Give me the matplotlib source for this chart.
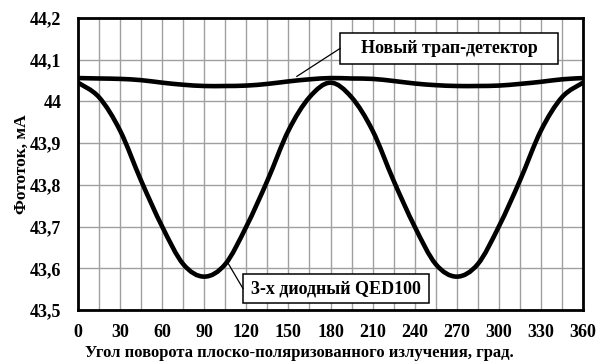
import numpy as np
import matplotlib
matplotlib.use('Agg')
import matplotlib.pyplot as plt
from matplotlib.path import Path
from matplotlib.patches import PathPatch, Rectangle

# углы поворота, град.
angles = [0, 15, 30, 45, 60, 75, 90, 105, 120, 135, 150, 165, 180,
          195, 210, 225, 240, 255, 270, 285, 300, 315, 330, 345, 360]

# новый трап-детектор
trap = [44.056, 44.055, 44.054, 44.051, 44.045, 44.040, 44.037, 44.037, 44.038,
        44.042, 44.048, 44.053, 44.056, 44.055, 44.054, 44.049, 44.043, 44.039,
        44.037, 44.037, 44.038, 44.042, 44.047, 44.053, 44.056]

# 3-х диодный QED100
qed = [44.045, 44.010, 43.930, 43.810, 43.700, 43.610, 43.580, 43.610, 43.700,
       43.810, 43.930, 44.010, 44.045, 44.010, 43.930, 43.810, 43.700, 43.610,
       43.580, 43.610, 43.700, 43.810, 43.930, 44.010, 44.045]

x_ticks = list(range(0, 361, 30))
y_ticks = [43.5, 43.6, 43.7, 43.8, 43.9, 44.0, 44.1, 44.2]
y_labels = ['43,5', '43,6', '43,7', '43,8', '43,9', '44', '44,1', '44,2']


def smooth_path(xs, ys):
    # сглаженная линия как в Excel: кубические кривые Безье через точки
    p = np.column_stack([xs, ys]).astype(float)
    p_ext = np.vstack([p[0], p, p[-1]])
    verts = [p[0]]
    codes = [Path.MOVETO]
    for i in range(1, len(p_ext) - 2):
        p0, p1, p2, p3 = p_ext[i - 1], p_ext[i], p_ext[i + 1], p_ext[i + 2]
        c1 = p1 + (p2 - p0) / 6
        c2 = p2 - (p3 - p1) / 6
        verts += [c1, c2, p2]
        codes += [Path.CURVE4] * 3
    return Path(verts, codes)


def callout(ax, text, x0, x1, y0, y1, tip):
    # подпись в рамке с линией-выноской к кривой
    ax.add_patch(Rectangle((x0, y0), x1 - x0, y1 - y0, fc='white', ec='black',
                           lw=1.1, zorder=4))
    ax.text((x0 + x1) / 2, (y0 + y1) / 2, text, fontsize=13, fontweight='bold',
            ha='center', va='center', zorder=5)
    ax.plot([x0, tip[0]], [(y0 + y1) / 2, tip[1]], color='black', lw=0.9, zorder=4)


plt.rcParams['font.family'] = ['Liberation Serif', 'DejaVu Serif']
plt.rcParams['font.weight'] = 'bold'

fig = plt.figure(figsize=(5.98, 3.63), dpi=100)
ax = fig.add_axes([78 / 598, 1 - 310 / 363, 505 / 598, 292 / 363])

ax.set_xlim(0, 360)
ax.set_ylim(43.5, 44.2)
ax.set_xticks(x_ticks)
ax.set_xticks(range(0, 361, 15), minor=True)
ax.set_yticks(y_ticks)
ax.set_yticklabels(y_labels)
ax.grid(True, which='both', axis='x', color='#a0a0a0', lw=1)
ax.grid(True, which='major', axis='y', color='#a0a0a0', lw=1)
ax.set_axisbelow(True)
ax.tick_params(which='both', length=0, labelsize=13)
ax.tick_params(axis='y', pad=12)
ax.tick_params(axis='x', pad=10)
for sp in ax.spines.values():
    sp.set_linewidth(2)
    sp.set_zorder(6)

for ys in (trap, qed):
    ax.add_patch(PathPatch(smooth_path(angles, ys), fill=False, ec='black',
                           lw=3.3, capstyle='round', joinstyle='round', zorder=3))

callout(ax, 'Новый трап-детектор', 186.8, 342.2, 44.090, 44.164, (156, 44.06))
callout(ax, '3-х диодный QED100', 117.6, 250.2, 43.517, 43.586, (107, 43.612))

ax.set_ylabel('Фототок, мА', fontsize=12.5, fontweight='bold')
ax.yaxis.set_label_coords((30 - 78) / 505, 0.5)
fig.text(299 / 598, 1 - 353 / 363,
         'Угол поворота плоско-поляризованного излучения, град.',
         fontsize=12, fontweight='bold', ha='center', va='center')

fig.savefig('out.png', dpi=100)
